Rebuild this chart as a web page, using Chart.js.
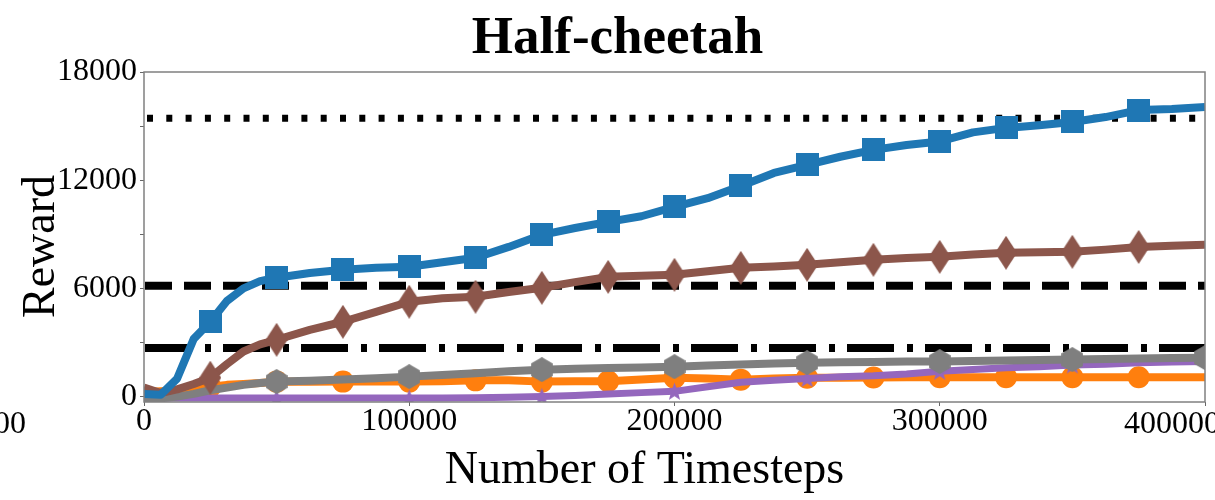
<!DOCTYPE html>
<html>
<head>
<meta charset="utf-8">
<script src="https://cdn.jsdelivr.net/npm/chart.js@4.4.1/dist/chart.umd.min.js"></script>
<style>
  html, body { margin: 0; padding: 0; background: #fff; overflow: hidden; width: 1215px; height: 500px; }
  #wrap { position: absolute; left: 0; top: 0; width: 1280px; height: 500px; }
</style>
</head>
<body>
<div id="wrap"><canvas id="c" width="1280" height="500"></canvas></div>
<script>
// ---------------- data ----------------
const steps = [0, 6250, 12500, 18750, 25000, 31250, 37500, 43750, 50000,
  62500, 75000, 87500, 100000, 112500, 125000, 137500, 150000, 162500, 175000, 187500,
  200000, 212500, 225000, 237500, 250000, 262500, 275000, 287500, 300000, 312500,
  325000, 337500, 350000, 362500, 375000, 387500, 400000];

const blueReward = [150, 100, 1000, 3200, 4150, 5300, 6000, 6400, 6590,
  6850, 7030, 7150, 7200, 7450, 7700, 8300, 8970, 9350, 9690, 10000,
  10520, 11000, 11680, 12400, 12850, 13300, 13680, 13950, 14150, 14650,
  14900, 15050, 15230, 15500, 15890, 15950, 16060];

const brownReward = [500, 200, 400, 700, 1050, 1800, 2500, 2900, 3150,
  3700, 4150, 4700, 5260, 5450, 5540, 5800, 6035, 6350, 6640, 6700,
  6755, 6950, 7140, 7220, 7310, 7450, 7585, 7680, 7750, 7880,
  7975, 8000, 8030, 8150, 8300, 8360, 8420];

const grayReward = [-200, -100, 0, 150, 350, 500, 650, 750, 830,
  880, 950, 1020, 1107, 1200, 1300, 1400, 1495, 1540, 1580, 1620,
  1660, 1720, 1780, 1830, 1880, 1900, 1920, 1940, 1940, 1970,
  2000, 2030, 2050, 2080, 2110, 2140, 2160];

const purpleReward = [-80, -80, -80, -80, -80, -80, -80, -80, -80,
  -80, -80, -80, -80, -80, -60, -40, 0, 60, 150, 220,
  290, 550, 800, 900, 1000, 1100, 1150, 1250, 1400, 1500,
  1600, 1650, 1750, 1800, 1880, 1920, 1950];

const orangeReward = [250, 300, 350, 450, 550, 650, 700, 750, 830,
  820, 830, 830, 830, 850, 900, 900, 830, 850, 850, 950,
  1050, 1000, 940, 1000, 1050, 1050, 1060, 1070, 1070, 1070,
  1070, 1070, 1070, 1070, 1070, 1070, 1070];

const refDotted = 15430;   // dotted reference level
const refDashed = 6150;    // dashed reference level
const refDashDot = 2700;   // dash-dot reference level

const xTicks = [0, 100000, 200000, 300000, 400000];
const yTicks = [0, 6000, 12000, 18000];

// ---------------- marker images ----------------
function makeMarker(w, h, color, path) {
  const c = document.createElement('canvas');
  c.width = w; c.height = h;
  const g = c.getContext('2d');
  g.fillStyle = color;
  g.beginPath();
  path(g, w, h);
  g.closePath();
  g.fill();
  return c;
}
const squareImg = makeMarker(23, 23, '#1f77b4', (g, w, h) => { g.rect(0, 0, w, h); });
const thinDiamondImg = makeMarker(22, 34, '#8c564b', (g, w, h) => {
  g.moveTo(w / 2, 0); g.lineTo(w, h / 2); g.lineTo(w / 2, h); g.lineTo(0, h / 2);
});
const hexImg = makeMarker(22, 25, '#7f7f7f', (g, w, h) => {
  const cx = w / 2, cy = h / 2, r = h / 2;
  for (let k = 0; k < 6; k++) {
    const a = -Math.PI / 2 + k * Math.PI / 3;
    const px = cx + r * Math.cos(a), py = cy + r * Math.sin(a);
    if (k === 0) g.moveTo(px, py); else g.lineTo(px, py);
  }
});
const starImg = makeMarker(19, 19, '#9467bd', (g, w, h) => {
  const cx = w / 2, cy = h / 2 + 0.8, R = 9.5, r = 4;
  for (let k = 0; k < 10; k++) {
    const a = -Math.PI / 2 + k * Math.PI / 5;
    const rr = k % 2 === 0 ? R : r;
    const px = cx + rr * Math.cos(a), py = cy + rr * Math.sin(a);
    if (k === 0) g.moveTo(px, py); else g.lineTo(px, py);
  }
});

function markerRadius(every, includeEnd, r) {
  return ctx => {
    const x = ctx.raw ? ctx.raw.x : -1;
    if (x <= 0) return 0;
    if (x >= 400000 && !includeEnd) return 0;
    return x % every === 0 ? r : 0;
  };
}

function series(vals) { return steps.map((s, i) => ({ x: s, y: vals[i] })); }
function flat(v) { return [{ x: 0, y: v }, { x: 400000, y: v }]; }

const FONT = "'Liberation Serif', 'Times New Roman', serif";

const datasets = [
  { data: series(blueReward), borderColor: '#1f77b4', borderWidth: 8, order: 0,
    pointStyle: squareImg, pointRadius: markerRadius(25000, false, 11) },
  { data: series(brownReward), borderColor: '#8c564b', borderWidth: 8, order: 1,
    pointStyle: thinDiamondImg, pointRadius: markerRadius(25000, false, 11) },
  { data: series(grayReward), borderColor: '#7f7f7f', borderWidth: 8, order: 2,
    pointStyle: hexImg, pointRadius: markerRadius(50000, true, 11) },
  { data: series(purpleReward), borderColor: '#9467bd', borderWidth: 7, order: 3,
    pointStyle: starImg, pointRadius: markerRadius(50000, false, 9) },
  { data: series(orangeReward), borderColor: '#ff7f0e', borderWidth: 8, order: 4,
    pointStyle: 'circle', backgroundColor: '#ff7f0e', pointBorderWidth: 0,
    pointRadius: markerRadius(25000, false, 11) },
  { data: flat(refDotted), borderColor: '#000', borderWidth: 7, order: 5,
    borderDash: [6, 13.3], borderDashOffset: -3, pointRadius: 0 },
  { data: flat(refDashed), borderColor: '#000', borderWidth: 8, order: 6,
    borderDash: [27, 12], borderDashOffset: -1, pointRadius: 0 },
  { data: flat(refDashDot), borderColor: '#000', borderWidth: 8, order: 7,
    borderDash: [47, 13, 6, 12], borderDashOffset: -1, pointRadius: 0 }
];
datasets.forEach(d => {
  d.tension = 0; d.fill = false; d.clip = 0; d.borderJoinStyle = 'round';
  d.pointBorderWidth = 0; d.pointHoverRadius = 0;
});

const lastXTick = xTicks[xTicks.length - 1];

const decor = {
  id: 'decor',
  afterDatasetsDraw(chart) {
    const { ctx, chartArea: a } = chart;
    ctx.save();
    ctx.strokeStyle = '#808080';
    ctx.lineWidth = 1.5;
    ctx.strokeRect(a.left, a.top, a.right - a.left, a.bottom - a.top);
    ctx.restore();
  },
  afterDraw(chart) {
    const { ctx } = chart;
    ctx.save();
    ctx.fillStyle = '#000';
    ctx.textBaseline = 'alphabetic';
    ctx.textAlign = 'center';
    ctx.font = "bold 53px " + FONT;
    ctx.fillText('Half-cheetah', 617.5, 53);
    ctx.font = "46px " + FONT;
    ctx.fillText('Number of Timesteps', 644.5, 483);
    ctx.save();
    ctx.translate(54, 246.5);
    ctx.rotate(-Math.PI / 2);
    ctx.fillText('Reward', 0, 0);
    ctx.restore();
    ctx.font = "32px " + FONT;
    ctx.textAlign = 'right';
    ctx.fillText('00', 26, 433);
    // last x tick label, shifted left as in the reference
    ctx.fillText(String(lastXTick), 1220, 433);
    ctx.restore();
  }
};

new Chart(document.getElementById('c'), {
  type: 'line',
  data: { datasets },
  options: {
    responsive: false,
    animation: false,
    devicePixelRatio: 1,
    layout: { padding: { left: 0, top: 72, right: 75, bottom: 0 } },
    plugins: { legend: { display: false }, tooltip: { enabled: false }, title: { display: false } },
    events: [],
    scales: {
      x: {
        type: 'linear', min: 0, max: 400000,
        afterFit: s => { s.height = 98; },
        afterBuildTicks: s => { s.ticks = xTicks.map(v => ({ value: v })); },
        ticks: { color: '#000', font: { family: FONT, size: 32, lineHeight: 1 }, padding: 0,
                 maxRotation: 0, autoSkip: false,
                 callback: v => (v === lastXTick ? '' : String(v)) },
        grid: { drawOnChartArea: false, drawTicks: true, tickLength: 4, color: '#666', lineWidth: 1 },
        border: { display: false }
      },
      y: {
        type: 'linear', min: -300, max: 18000,
        afterFit: s => { s.width = 144; },
        afterBuildTicks: s => {
          const out = [];
          for (let v = 0; v <= 18000; v += 3000) out.push({ value: v });
          s.ticks = out;
        },
        ticks: { color: '#000', font: { family: FONT, size: 32, lineHeight: 1 }, padding: 3,
                 autoSkip: false, callback: v => (yTicks.includes(v) ? String(v) : '') },
        grid: { drawOnChartArea: false, drawTicks: true, tickLength: 4, color: '#666', lineWidth: 1 },
        border: { display: false }
      }
    }
  },
  plugins: [decor]
});
</script>
</body>
</html>
